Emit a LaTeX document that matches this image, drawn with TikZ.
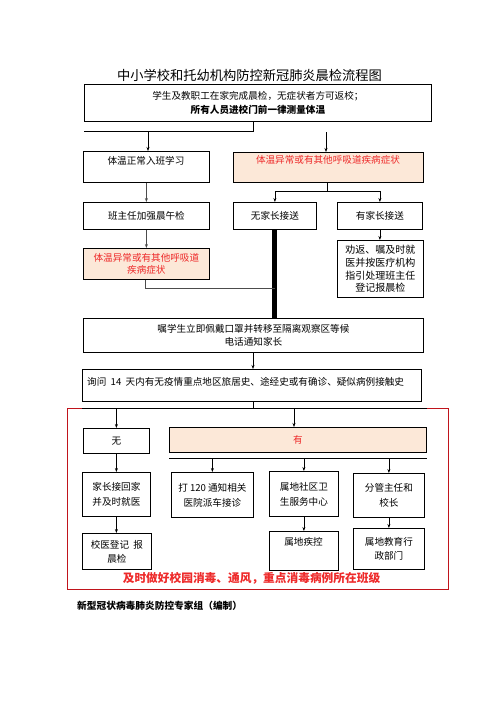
\documentclass[tikz,border=0pt]{standalone}
\usepackage{fontspec}
\setmainfont{Noto Sans CJK SC}
\usetikzlibrary{arrows.meta}
\definecolor{peach}{HTML}{FCE8D8}
\definecolor{tred}{HTML}{EE2A2A}
\definecolor{fred}{HTML}{C0141C}
\begin{document}
\begin{tikzpicture}[x=1pt,y=-1pt,
 box/.style={draw, line width=0.8pt, inner sep=0pt, anchor=north west, align=center, font=\fontsize{9.6}{14}\selectfont},
 pbox/.style={box, fill=peach, text=tred},
 txt/.style={inner sep=0pt, align=center, font=\fontsize{9.6}{14}\selectfont},
 arr/.style={-{Stealth[length=4pt,width=3pt]}, line width=0.6pt},
 ln/.style={line width=0.6pt}]
\useasboundingbox (0,0) rectangle (496,702);
\fill[white] (0,0) rectangle (496,702);

\node[txt, font=\fontsize{13.25}{15}\selectfont] (title) at (249.5,75.5) {中小学校和托幼机构防控新冠肺炎晨检流程图};

\node[box, minimum width=347, minimum height=37] (b1) at (84,84) {学生及教职工在家完成晨检，无症状者方可返校；\\ \textbf{所有人员进校门前一律测量体温}};

\node[box, minimum width=126, minimum height=31] (b2) at (83,151) {};
\node[txt] (t2) at (146,161) {体温正常入班学习};
\node[pbox, minimum width=190, minimum height=30] (b3) at (233,152) {};
\node[txt, text=tred] (t3) at (328,160) {体温异常或有其他呼吸道疾病症状};

\node[box, minimum width=126, minimum height=27] (b4) at (83,202) {班主任加强晨午检};
\node[box, minimum width=83, minimum height=27] (b5) at (233,202) {无家长接送};
\node[box, minimum width=85, minimum height=27] (b6) at (337,202) {有家长接送};

\node[box, minimum width=86, minimum height=57, font=\fontsize{10}{12.7}\selectfont] (b7) at (337,240) {劝返、嘱及时就\\医并按医疗机构\\指引处理班主任\\登记报晨检};
\node[pbox, minimum width=126, minimum height=31, font=\fontsize{9.6}{12}\selectfont] (b8) at (83,248) {体温异常或有其他呼吸道\\疾病症状};

\node[box, minimum width=340, minimum height=34, font=\fontsize{9.6}{13}\selectfont] (b9) at (83,318) {嘱学生立即佩戴口罩并转移至隔离观察区等候\\电话通知家长};

\node[box, minimum width=339, minimum height=32] (b10) at (82,369) {};
\node[txt, anchor=west] (t10) at (87,382) {询问\ \ 14\ \ 天内有无疫情重点地区旅居史、途经史或有确诊、疑似病例接触史};

\node[draw=fred, line width=0.8pt, inner sep=0pt, anchor=north west, minimum width=381, minimum height=181] (frame) at (67,408) {};

\node[box, minimum width=66, minimum height=25] (b11) at (83,428) {无};
\node[pbox, minimum width=257, minimum height=25] (b12) at (169,427) {有};

\node[box, minimum width=68, minimum height=44, font=\fontsize{9.6}{15}\selectfont] (b13) at (82,472) {家长接回家\\并及时就医};
\node[box, minimum width=82, minimum height=45, font=\fontsize{9.6}{15}\selectfont] (b14) at (171,472) {打 120 通知相关\\医院派车接诊};
\node[box, minimum width=69, minimum height=45, font=\fontsize{9.6}{15}\selectfont] (b15) at (269,471) {属地社区卫\\生服务中心};
\node[box, minimum width=71, minimum height=44, font=\fontsize{9.6}{15}\selectfont] (b16) at (353,473) {分管主任和\\校长};

\node[box, minimum width=69, minimum height=36] (b17) at (82,533) {校医登记\ \ 报\\晨检};
\node[box, minimum width=69, minimum height=39] (b18) at (269,531) {};
\node[txt] (t18) at (303.5,542) {属地疾控};
\node[box, minimum width=71, minimum height=41] (b19) at (353,528) {属地教育行\\政部门};

\node[txt, text=tred, font=\fontsize{11.7}{14}\selectfont\bfseries] (warn) at (251.5,578) {及时做好校园消毒、通风，重点消毒病例所在班级};
\node[txt, anchor=west, font=\fontsize{9.7}{12}\selectfont\bfseries] (foot) at (77,606) {新型冠状病毒肺炎防控专家组（编制）};

% connectors
\coordinate (j1) at (253,131);
\draw[ln] (b1.south -| j1) -- (j1) -- (j1 -| b1.west);
\coordinate (a2) at (148,132);
\draw[arr] (a2) -- (a2 |- b2.north);
\coordinate (a3) at (326,132);
\draw[arr] (a3) -- (a3 |- b3.north);

\draw[arr, black!70] (b2.south) -- (b4.north);

\coordinate (j3) at (327,191);
\draw[ln] (b3.south -| j3) -- (j3);
\draw[ln] (b5.north |- j3) -- (b6.north |- j3);
\draw[arr] (b5.north |- j3) -- (b5.north);
\draw[arr] (b6.north |- j3) -- (b6.north);

\draw[line width=5pt] (b5.south) -- (b5.south |- b9.north);
\draw[arr] (b6.south) -- (b6.south |- b7.north);
\draw[arr, black!70] (b4.south) -- (b8.north);
\coordinate (j8) at (145,288);
\draw[ln, black!70] (b8.south -| j8) -- (j8) -- (j8 -| b5.south);

\draw[arr] (b9.south -| j1) -- (b10.north -| j1);

\coordinate (j10) at (253,408);
\draw[ln] (b10.south -| j10) -- (j10);
\draw[ln] (j10 -| b13.west) -- (j10 -| b12.east);
\draw[arr] (j10 -| b11.north) -- (b11.north);
\coordinate (a12) at (294,408);
\draw[arr] (a12) -- (a12 |- b12.north);

\draw[arr] (b11.south) -- (b11.south |- b13.north);
\coordinate (j12) at (169,458);
\draw[ln] (j12) -- (j12 -| b12.east);
\draw[arr] (j12 -| b14.north) -- (b14.north);
\draw[arr] (j12 -| b15.north) -- (b15.north);
\draw[arr] (j12 -| b16.north) -- (b16.north);

\draw[arr] (b13.south) -- (b13.south |- b17.north);
\draw[arr] (b15.south) -- (b18.north);
\draw[arr] (b16.south) -- (b19.north);
\end{tikzpicture}
\end{document}
